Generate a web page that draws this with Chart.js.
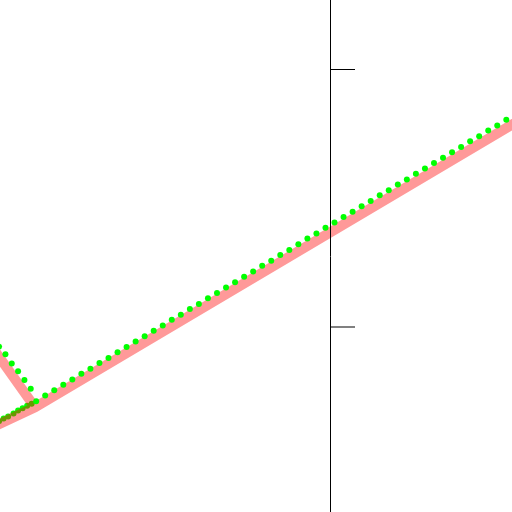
<!DOCTYPE html>
<html>
<head>
<meta charset="utf-8">
<script src="https://cdn.jsdelivr.net/npm/chart.js@4/dist/chart.umd.min.js"></script>
<style>
  html, body { margin: 0; padding: 0; background: #fff; }
  #wrap { width: 512px; height: 512px; }
</style>
</head>
<body>
<div id="wrap"><canvas id="chart"></canvas></div>
<script>
// y axis tick values (no labels shown), y axis crosses x at this value
const yTicks = [100, 50];
const yAxisAtX = 36.5;

// green dots drawn above the pink line (branch + main run)
const greenTopX = [-0.1, 0.6, 1.3, 2.0, 2.7, 3.4,
  4, 5, 6, 7, 8, 9, 10, 11, 12, 13, 14, 15, 16, 17, 18, 19, 20, 21, 22, 23, 24, 25,
  26, 27, 28, 29, 30, 31, 32, 33, 34, 35, 36, 37, 38, 39, 40, 41, 42, 43, 44, 45,
  46, 47, 48, 49, 50, 51, 52, 53, 54, 55, 56];
const greenTopY = [46.1, 44.6, 42.8, 41.3, 39.6, 37.9,
  35.5, 36.6, 37.6, 38.7, 39.7, 40.8, 41.8, 42.9, 43.9, 45.0, 46.0, 47.1, 48.1, 49.2,
  50.2, 51.3, 52.3, 53.4, 54.4, 55.5, 56.5, 57.6, 58.6, 59.7, 60.7, 61.8, 62.8, 63.9,
  64.9, 66.0, 67.1, 68.1, 69.2, 70.2, 71.3, 72.3, 73.4, 74.4, 75.5, 76.5, 77.6, 78.6,
  79.7, 80.7, 81.8, 82.8, 83.9, 84.9, 86.0, 87.0, 88.1, 89.1, 90.2];

// green dots that sit under the pink line (lower left)
const greenUnderX = [-0.1, 0.4, 0.9, 1.5, 2.0, 2.5, 3.0, 3.5];
const greenUnderY = [31.6, 32.1, 32.5, 33.1, 33.7, 34.1, 34.6, 35.0];

// pink line: branch from upper left, gap, then lower run bending into main run
const pinkX = [-1.1, 3.87, null, -1.1, 3.87, 59.95];
const pinkY = [46.6, 34.3, null, 30.2, 34.3, 92.7];

const toPoints = (xs, ys) => xs.map((x, i) => ({ x: x, y: ys[i] }));

const ctx = document.getElementById("chart");

new Chart(ctx, {
  type: "scatter",
  data: {
    datasets: [
      {
        label: "green",
        data: toPoints(greenTopX, greenTopY),
        order: 0,
        showLine: false,
        pointRadius: 3,
        pointBorderWidth: 0,
        pointBackgroundColor: "#00ff00",
        pointBorderColor: "#00ff00",
        clip: false,
      },
      {
        label: "pink",
        data: toPoints(pinkX, pinkY),
        order: 1,
        showLine: true,
        spanGaps: false,
        pointRadius: 0,
        borderColor: "rgba(255, 0, 0, 0.4)",
        borderWidth: 10,
        clip: false,
      },
      {
        label: "green under",
        data: toPoints(greenUnderX, greenUnderY),
        order: 2,
        showLine: false,
        pointRadius: 3,
        pointBorderWidth: 0,
        pointBackgroundColor: "#00ff00",
        pointBorderColor: "#00ff00",
        clip: false,
      },
    ],
  },
  options: {
    responsive: true,
    maintainAspectRatio: false,
    animation: false,
    events: [],
    layout: { padding: 0, autoPadding: false },
    plugins: {
      legend: { display: false },
      tooltip: { enabled: false },
    },
    scales: {
      x: {
        type: "linear",
        display: false,
        min: 0,
        max: 56.63,
      },
      y: {
        type: "linear",
        position: { x: yAxisAtX },
        min: 13.95,
        max: 113.47,
        afterBuildTicks: (scale) => {
          scale.ticks = yTicks.map((v) => ({ value: v }));
        },
        afterFit: (scale) => {
          scale.width = 0;
        },
        ticks: { display: false },
        grid: {
          drawOnChartArea: false,
          drawTicks: true,
          // negative length puts the tick marks on the right of the axis line
          tickLength: -25,
          color: (c) => (c.tick && c.tick.value === 50 ? "#808080" : "#000000"),
          lineWidth: (c) => (c.tick && c.tick.value === 50 ? 2 : 1),
        },
        border: { display: true, color: "#000000", width: 1, z: 1 },
      },
    },
  },
});
</script>
</body>
</html>
